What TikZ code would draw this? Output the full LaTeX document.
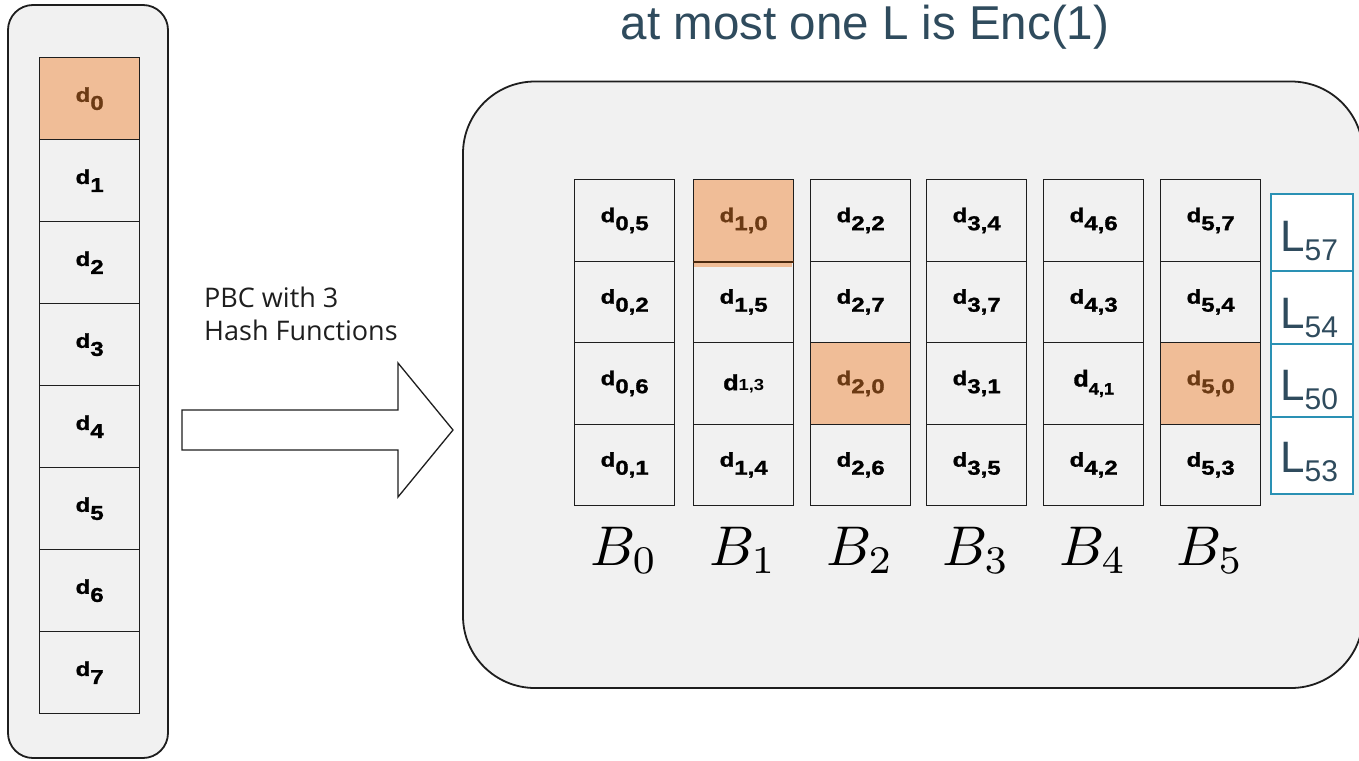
\documentclass[tikz,border=0pt]{standalone}
\usepackage[no-math]{fontspec}
\usepackage{graphicx}
\setmainfont{Liberation Sans}
\newfontfamily\pbcfont{Open Sans}
\newfontfamily\cellfont{Liberation Sans Bold}[FakeBold=1.2]
\definecolor{panelgray}{HTML}{F1F1F1}
\definecolor{hl}{HTML}{F0BD97}
\definecolor{hltext}{HTML}{6B3A14}
\definecolor{lteal}{HTML}{2A91B4}
\definecolor{slate}{HTML}{2F4B5D}
\definecolor{ink}{HTML}{1E1E1E}
\newcommand\dsub[1]{\scalebox{1.2}[1]{\cellfont\fontsize{20}{20}\selectfont d\raisebox{-8pt}{\fontsize{20}{20}\selectfont #1}}}
\newcommand\dsubthin[1]{\scalebox{1.15}[1]{{\cellfont\fontsize{22}{22}\selectfont d}{\fontsize{16}{16}\selectfont\bfseries #1}}}
\newcommand\dsubsmall[1]{\scalebox{1.1}[1]{\cellfont\fontsize{23}{23}\selectfont d\raisebox{-8pt}{\fontsize{16.5}{16.5}\selectfont #1}}}
\newcommand\Lsub[1]{{\fontsize{44}{44}\selectfont L\raisebox{-9pt}{\fontsize{30}{30}\selectfont #1}}}
\newcommand\bigB[1]{\scalebox{5.6}{$B_{#1}$}}
\tikzset{
  panel/.style={draw=ink, line width=1.8pt, fill=panelgray},
  cell/.style={draw=ink, line width=1.4pt, fill=panelgray, minimum width=100pt, minimum height=81.5pt, inner sep=0pt, anchor=north west},
  lcell/.style={cell, minimum height=82pt},
  hot/.style={fill=hl, text=hltext},
  lbox/.style={draw=lteal, line width=1.5pt, fill=white, minimum width=82pt, inner sep=0pt, anchor=north west},
  ltext/.style={text=slate, inner sep=0pt, anchor=base west},
  blabel/.style={inner sep=0pt, anchor=base},
  blockarrow/.style={draw=ink, line width=1.3pt, fill=white, line join=miter}
}
\begin{document}
\begin{tikzpicture}[x=1pt,y=-1pt]
\useasboundingbox (0,0) rectangle (1359,760);
\fill[white] (0,0) rectangle (1359,760);
% panels
\draw[panel, rounded corners=25pt] (8,5) rectangle (168,758);
\draw[panel, rounded corners=72pt] (463,81.5) rectangle (1363,688);
% left column
\node[lcell, hot] (d0) at (39,57) {\dsub{0}};
\node[lcell] (d1) at (39,139) {\dsub{1}};
\node[lcell] (d2) at (39,221) {\dsub{2}};
\node[lcell] (d3) at (39,303) {\dsub{3}};
\node[lcell] (d4) at (39,385) {\dsub{4}};
\node[lcell] (d5) at (39,467) {\dsub{5}};
\node[lcell] (d6) at (39,549) {\dsub{6}};
\node[lcell] (d7) at (39,631) {\dsub{7}};
% arrow and caption
\draw[blockarrow] (182,410) -- (398,410) -- (398,363) -- (453,430) -- (398,497) -- (398,450) -- (182,450) -- cycle;
\node[anchor=base west, inner sep=0pt, align=left, font=\pbcfont\fontsize{27}{33}\selectfont, text=ink] (pbc) at (204,340) {PBC with 3\\Hash Functions};
% title
\node[anchor=base, inner sep=0pt, text=slate, font=\fontsize{47.5}{47.5}\selectfont] (title) at (865,40) {at most one L is Enc(1)};
% bins
\node[cell] (b00) at (574,179) {\dsub{0,5}};
\node[cell] (b01) at (574,260.5) {\dsub{0,2}};
\node[cell] (b02) at (574,342) {\dsub{0,6}};
\node[cell] (b03) at (574,423.5) {\dsub{0,1}};
\node[cell, hot] (b10) at (693,179) {\dsub{1,0}};
\node[cell] (b11) at (693,260.5) {\dsub{1,5}};
\node[cell] (b12) at (693,342) {\dsubthin{1,3}};
\node[cell] (b13) at (693,423.5) {\dsub{1,4}};
\node[cell] (b20) at (810,179) {\dsub{2,2}};
\node[cell] (b21) at (810,260.5) {\dsub{2,7}};
\node[cell, hot] (b22) at (810,342) {\dsub{2,0}};
\node[cell] (b23) at (810,423.5) {\dsub{2,6}};
\node[cell] (b30) at (926,179) {\dsub{3,4}};
\node[cell] (b31) at (926,260.5) {\dsub{3,7}};
\node[cell] (b32) at (926,342) {\dsub{3,1}};
\node[cell] (b33) at (926,423.5) {\dsub{3,5}};
\node[cell] (b40) at (1043,179) {\dsub{4,6}};
\node[cell] (b41) at (1043,260.5) {\dsub{4,3}};
\node[cell] (b42) at (1043,342) {\dsubsmall{4,1}};
\node[cell] (b43) at (1043,423.5) {\dsub{4,2}};
\node[cell] (b50) at (1160,179) {\dsub{5,7}};
\node[cell] (b51) at (1160,260.5) {\dsub{5,4}};
\node[cell, hot] (b52) at (1160,342) {\dsub{5,0}};
\node[cell] (b53) at (1160,423.5) {\dsub{5,3}};
% spill of the d1,0 highlight below its cell
\fill[hl] (693.7,261.2) rectangle (792.3,267);
\draw[draw=hltext!70!black, line width=1.4pt] (b10.south west) -- (b10.south east);
% bin labels
\node[blabel] (B0) at (624,565) {\bigB{0}};
\node[blabel] (B1) at (743,565) {\bigB{1}};
\node[blabel] (B2) at (860,565) {\bigB{2}};
\node[blabel] (B3) at (976,565) {\bigB{3}};
\node[blabel] (B4) at (1093,565) {\bigB{4}};
\node[blabel] (B5) at (1210,565) {\bigB{5}};
% L boxes
\node[lbox, minimum height=77pt] (L57) at (1270,193) {};
\node[lbox, minimum height=73pt] (L54) at (1270,270) {};
\node[lbox, minimum height=73pt] (L50) at (1270,343) {};
\node[lbox, minimum height=77pt] (L53) at (1270,416) {};
\node[ltext] (t57) at (1280,251) {\Lsub{57}};
\node[ltext] (t54) at (1280,328) {\Lsub{54}};
\node[ltext] (t50) at (1280,400) {\Lsub{50}};
\node[ltext] (t53) at (1280,472) {\Lsub{53}};
\end{tikzpicture}
\end{document}
